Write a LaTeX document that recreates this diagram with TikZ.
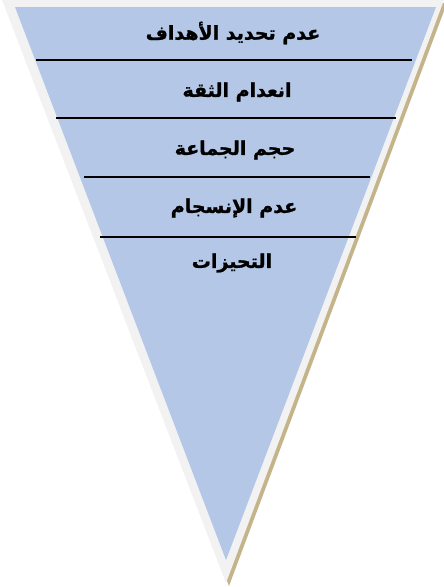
\documentclass[tikz,border=0pt]{standalone}
\usepackage{fontspec}
\newfontfamily\arabicfont[Script=Arabic, BoldFeatures={FakeBold=1.2}]{DejaVu Sans}
\TeXXeTstate=1
\usetikzlibrary{positioning, calc}

\definecolor{funnelblue}{RGB}{180,199,231}
\definecolor{rimgray}{RGB}{242,242,242}
\definecolor{shadowtan}{RGB}{196,180,138}

\begin{document}
\begin{tikzpicture}[
    x=1pt, y=-1pt,
    level/.style={font=\arabicfont\bfseries\fontsize{19}{22}\selectfont, inner sep=0pt},
    divider/.style={draw=black, line width=2pt},
]
\useasboundingbox (0,0) rectangle (444,587);

% --- Inverted triangle: shadow, rim, body ---
\fill[shadowtan] (5,3) -- (447,3) -- (229,586) -- cycle;
\fill[rimgray] (2,0) -- (444,0) -- (226,583) -- cycle;
\fill[funnelblue] (15,7) -- (436,7) -- (226,560) -- cycle;

% --- Dividers between the levels ---
\coordinate (d1l) at (36,60);  \coordinate (d1r) at (412,60);
\coordinate (d2l) at (56,118); \coordinate (d2r) at (396,118);
\coordinate (d3l) at (84,177); \coordinate (d3r) at (370,177);
\coordinate (d4l) at (100,237); \coordinate (d4r) at (356,237);

\draw[divider] (d1l)--(d1r);
\draw[divider] (d2l)--(d2r);
\draw[divider] (d3l)--(d3r);
\draw[divider] (d4l)--(d4r);

% --- Level labels, top to bottom ---
\node[level] (goals)    at (233,33)  {\beginR عدم تحديد الأهداف\endR};
\node[level] (trust)    at (237,92)  {\beginR انعدام الثقة\endR};
\node[level] (size)     at (235,150) {\beginR حجم الجماعة\endR};
\node[level] (cohesion) at (234,208) {\beginR عدم الإنسجام\endR};
\node[level] (bias)     at (232,263) {\beginR التحيزات\endR};

\end{tikzpicture}
\end{document}
